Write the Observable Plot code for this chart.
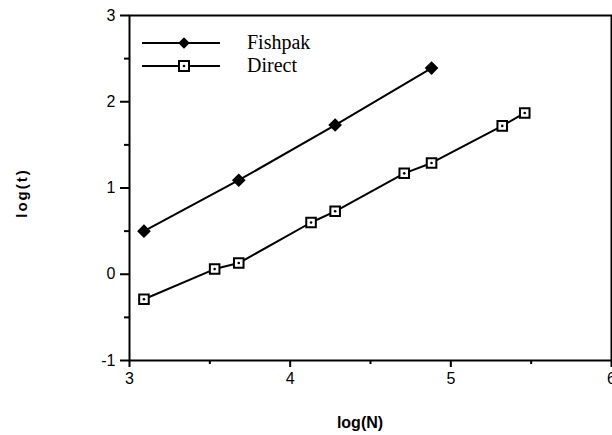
<!DOCTYPE html>
<html><head><meta charset="utf-8">
<script src="https://cdn.jsdelivr.net/npm/d3@7"></script>
<script src="https://cdn.jsdelivr.net/npm/@observablehq/plot@0.6"></script>
<style>body{margin:0;background:#fff}</style>
</head><body><div id="chart"></div>
<script>
const fishpakX = [3.09, 3.68, 4.28, 4.88];
const fishpakY = [0.50, 1.09, 1.73, 2.39];
const directX = [3.09, 3.53, 3.68, 4.13, 4.28, 4.71, 4.88, 5.32, 5.46];
const directY = [-0.29, 0.06, 0.13, 0.60, 0.73, 1.17, 1.29, 1.72, 1.87];
const xTicks = [3, 4, 5, 6];
const xMinor = [3.5, 4.5, 5.5];
const yTicks = [-1, 0, 1, 2, 3];
const yMinor = [-0.5, 0.5, 1.5, 2.5];
const seriesNames = ["Fishpak", "Direct"];

const fishpak = fishpakX.map((x, i) => ({x, y: fishpakY[i]}));
const direct = directX.map((x, i) => ({x, y: directY[i]}));
const SANS = "'Liberation Sans', Arial, Helvetica, sans-serif";

const plot = Plot.plot({
  width: 612, height: 435,
  marginLeft: 129, marginRight: 1, marginTop: 15, marginBottom: 75,
  style: {fontFamily: SANS, fontSize: "16px", background: "#fff", color: "#000"},
  x: {domain: [3, 6]},
  y: {domain: [-1, 3]},
  marks: [
    Plot.frame({stroke: "#000", strokeWidth: 2}),
    Plot.axisX({ticks: xTicks, tickSize: 7, tickPadding: 5, strokeWidth: 2, fontSize: 16, fontFamily: SANS, tickFormat: d => String(d), label: null}),
    Plot.axisX({ticks: xMinor, tickSize: 4, strokeWidth: 2, tickFormat: () => "", label: null}),
    Plot.axisY({ticks: yTicks, tickSize: 9, tickPadding: 5, strokeWidth: 2, fontSize: 16, fontFamily: SANS, tickFormat: d => String(d), label: null}),
    Plot.axisY({ticks: yMinor, tickSize: 5, strokeWidth: 2, tickFormat: () => "", label: null}),
    Plot.line(fishpak, {x: "x", y: "y", stroke: "#000", strokeWidth: 2}),
    Plot.dot(fishpak, {x: "x", y: "y", symbol: "diamond2", r: 5.2, fill: "#000", stroke: "#000"}),
    Plot.line(direct, {x: "x", y: "y", stroke: "#000", strokeWidth: 2}),
    Plot.dot(direct, {x: "x", y: "y", symbol: "square", r: 5.4, fill: "#fff", stroke: "#000", strokeWidth: 2}),
    Plot.dot(direct, {x: "x", y: "y", r: 1.3, fill: "#000"})
  ]
});

// Axis titles
const svg = d3.select(plot);
svg.append("text").attr("x", 360).attr("y", 428).attr("text-anchor", "middle")
  .attr("font-family", SANS).attr("font-weight", "bold").attr("font-size", 16)
  .text("log(N)");
svg.append("text").attr("transform", "translate(27,193) rotate(-90)").attr("text-anchor", "middle")
  .attr("font-family", SANS).attr("font-weight", "bold").attr("font-size", 15)
  .attr("letter-spacing", 2).text("log(t)");

// Legend
const leg = svg.append("g");
seriesNames.forEach((name, i) => {
  const yy = 43 + i * 23;
  leg.append("line").attr("x1", 142).attr("x2", 220).attr("y1", yy).attr("y2", yy).attr("stroke", "#000").attr("stroke-width", 2);
  if (i === 0) {
    leg.append("path").attr("d", d3.symbol(d3.symbolDiamond2, 85)()).attr("transform", `translate(184,${yy})`).attr("fill", "#000");
  } else {
    leg.append("rect").attr("x", 179).attr("y", yy - 5).attr("width", 10).attr("height", 10).attr("fill", "#fff").attr("stroke", "#000").attr("stroke-width", 2);
    leg.append("circle").attr("cx", 184).attr("cy", yy).attr("r", 1.3).attr("fill", "#000");
  }
  leg.append("text").attr("x", 247).attr("y", yy + 6).attr("text-anchor", "start")
    .attr("font-family", "'Liberation Serif', 'Times New Roman', serif").attr("font-size", 20).text(name);
});

document.getElementById("chart").appendChild(plot);
</script></body></html>
